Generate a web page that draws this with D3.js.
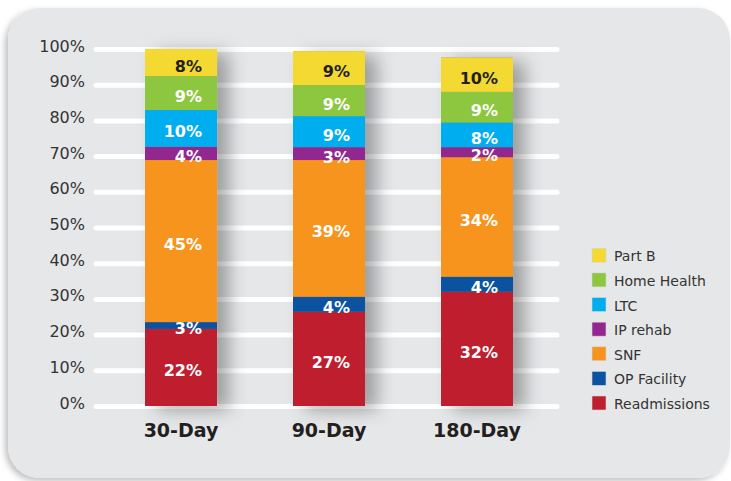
<!DOCTYPE html>
<html>
<head>
<meta charset="utf-8">
<script src="https://cdn.jsdelivr.net/npm/d3@7"></script>
<style>
  html, body { margin: 0; padding: 0; background: #ffffff; }
  svg { display: block; font-family: "DejaVu Sans", Verdana, sans-serif; }
</style>
</head>
<body>
<svg id="chart" width="731" height="481"></svg>
<script>
// ---- data ----
const categories = ["30-Day", "90-Day", "180-Day"];
const seriesNames = ["Readmissions", "OP Facility", "SNF", "IP rehab", "LTC", "Home Health", "Part B"];
const seriesColors = ["#be1e2d", "#0b53a0", "#f7941d", "#92278f", "#00aeef", "#8dc63f", "#f4d932"];
// measured segment heights (share of total)
const readmissions = [0.216, 0.264, 0.320];
const opFacility   = [0.019, 0.042, 0.042];
const snf          = [0.454, 0.383, 0.335];
const ipRehab      = [0.037, 0.036, 0.028];
const ltc          = [0.103, 0.087, 0.069];
const homeHealth   = [0.095, 0.087, 0.086];
const partB        = [0.076, 0.095, 0.096];
// printed labels
const readmissionsLabels = ["22%", "27%", "32%"];
const opFacilityLabels   = ["3%", "4%", "4%"];
const snfLabels          = ["45%", "39%", "34%"];
const ipRehabLabels      = ["4%", "3%", "2%"];
const ltcLabels          = ["10%", "9%", "8%"];
const homeHealthLabels   = ["9%", "9%", "9%"];
const partBLabels        = ["8%", "9%", "10%"];
const yTicks = [0, 0.1, 0.2, 0.3, 0.4, 0.5, 0.6, 0.7, 0.8, 0.9, 1.0];

const seriesValues = [readmissions, opFacility, snf, ipRehab, ltc, homeHealth, partB];
const seriesLabels = [readmissionsLabels, opFacilityLabels, snfLabels, ipRehabLabels, ltcLabels, homeHealthLabels, partBLabels];

const table = categories.map((c, i) => {
  const row = { cat: c };
  seriesNames.forEach((s, j) => { row[s] = seriesValues[j][i]; });
  return row;
});

const svg = d3.select("#chart");
const defs = svg.append("defs");

const panelShadow = defs.append("filter").attr("id", "panelShadow")
  .attr("x", "-10%").attr("y", "-10%").attr("width", "120%").attr("height", "120%");
panelShadow.append("feDropShadow").attr("dx", -3).attr("dy", 3).attr("stdDeviation", 3)
  .attr("flood-color", "#000").attr("flood-opacity", 0.25);

const barShadow = defs.append("filter").attr("id", "barShadow")
  .attr("x", "-30%").attr("y", "-10%").attr("width", "200%").attr("height", "130%");
barShadow.append("feDropShadow").attr("dx", 12).attr("dy", 4).attr("stdDeviation", 9)
  .attr("flood-color", "#000").attr("flood-opacity", 0.32);

// panel
svg.append("rect")
  .attr("x", 8).attr("y", 8).attr("width", 722).attr("height", 470)
  .attr("rx", 32).attr("ry", 32)
  .attr("fill", "#e6e7e8")
  .attr("filter", "url(#panelShadow)");

// scales
const y = d3.scaleLinear().domain([0, 1]).range([406, 49]);
const x = d3.scaleBand().domain(categories).range([107, 551])
  .paddingInner(0.5135).paddingOuter(0.2568);

// y axis with gridlines
const yAxis = d3.axisLeft(y)
  .tickValues(yTicks)
  .tickFormat(d3.format(".0%"))
  .tickSize(-(557 - 96))
  .tickPadding(11);

const yg = svg.append("g").attr("transform", "translate(96,0)").call(yAxis);
yg.select(".domain").remove();
yg.selectAll(".tick line")
  .attr("stroke", "#ffffff").attr("stroke-width", 5).attr("stroke-linecap", "round");
yg.selectAll(".tick text")
  .attr("fill", "#333333").attr("font-size", 16)
  .attr("font-family", "\"DejaVu Sans\", Verdana, sans-serif")
  .attr("dy", "0.13em");

// stack
const stack = d3.stack().keys(seriesNames);
const stacked = stack(table);

const barsG = svg.append("g");
// shadows
barsG.selectAll("rect.shadow")
  .data(table)
  .join("rect")
  .attr("class", "shadow")
  .attr("x", d => x(d.cat))
  .attr("width", x.bandwidth())
  .attr("y", d => y(d3.sum(seriesNames, s => d[s])))
  .attr("height", d => y(0) - y(d3.sum(seriesNames, s => d[s])))
  .attr("fill", "#888")
  .attr("filter", "url(#barShadow)");

stacked.forEach((layer, j) => {
  barsG.append("g").selectAll("rect")
    .data(layer)
    .join("rect")
    .attr("x", d => x(d.data.cat))
    .attr("width", x.bandwidth())
    .attr("y", d => y(d[1]))
    .attr("height", d => y(d[0]) - y(d[1]))
    .attr("fill", seriesColors[j]);
});

// labels
stacked.forEach((layer, j) => {
  svg.append("g").selectAll("text")
    .data(layer)
    .join("text")
    .attr("x", d => x(d.data.cat) + x.bandwidth() - 15)
    .attr("y", d => (y(d[0]) + y(d[1])) / 2 + 9)
    .attr("text-anchor", "end")
    .attr("font-size", 16)
    .attr("font-weight", "bold")
    .attr("fill", seriesNames[j] === "Part B" ? "#231f20" : "#ffffff")
    .text((d, i) => seriesLabels[j][i]);
});

// x axis labels
const xAxis = d3.axisBottom(x).tickSize(0).tickPadding(0);
const xg = svg.append("g").attr("transform", "translate(0,437)").call(xAxis);
xg.select(".domain").remove();
xg.selectAll(".tick text")
  .attr("y", 0).attr("dy", 0)
  .attr("fill", "#231f20")
  .attr("font-size", 19)
  .attr("font-weight", "bold")
  .attr("font-family", "\"DejaVu Sans\", Verdana, sans-serif");

// legend
const legendOrder = seriesNames.map((s, i) => i).reverse();
const ly = d3.scalePoint().domain(legendOrder).range([255.3, 403]);
const lg = svg.append("g");
const items = lg.selectAll("g").data(legendOrder).join("g")
  .attr("transform", i => `translate(592,${ly(i)})`);
items.append("rect")
  .attr("x", 0).attr("y", -7).attr("width", 14).attr("height", 14)
  .attr("fill", i => seriesColors[i])
  .attr("stroke", "#d8d8d8").attr("stroke-width", 0.6);
items.append("text")
  .attr("x", 22).attr("y", 6)
  .attr("font-size", 14)
  .attr("fill", "#333333")
  .text(i => seriesNames[i]);
</script>
</body>
</html>
